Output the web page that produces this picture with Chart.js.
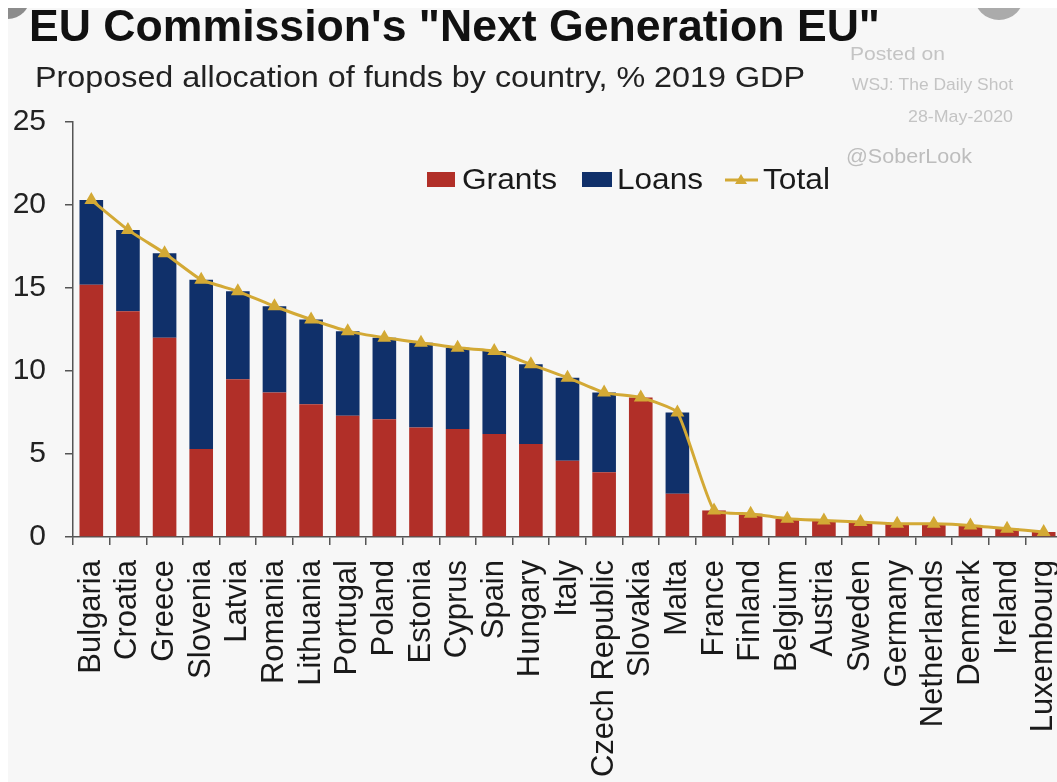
<!DOCTYPE html>
<html>
<head>
<meta charset="utf-8">
<script src="https://cdn.jsdelivr.net/npm/chart.js@4.4.1/dist/chart.umd.min.js"></script>
<style>
  html, body { margin: 0; padding: 0; background: #fff; overflow: hidden; width: 1057px; height: 782px; }
  #wrap { position: absolute; left: 0; top: 0; width: 1075px; height: 782px; }
</style>
</head>
<body>
<div id="wrap"><canvas id="chart" width="1075" height="782"></canvas></div>
<script>
// NGEU proposal, % of 2019 GDP
const countries = ['Bulgaria', 'Croatia', 'Greece', 'Slovenia', 'Latvia', 'Romania', 'Lithuania',
  'Portugal', 'Poland', 'Estonia', 'Cyprus', 'Spain', 'Hungary', 'Italy', 'Czech Republic',
  'Slovakia', 'Malta', 'France', 'Finland', 'Belgium', 'Austria', 'Sweden', 'Germany',
  'Netherlands', 'Denmark', 'Ireland', 'Luxembourg'];
const grants = [15.2, 13.6, 12.0, 5.3, 9.5, 8.7, 8.0, 7.3, 7.1, 6.6, 6.5, 6.2, 5.6, 4.6, 3.9,
  8.4, 2.6, 1.6, 1.4, 1.1, 1.0, 0.9, 0.8, 0.8, 0.7, 0.5, 0.3];
const loans = [5.1, 4.9, 5.1, 10.2, 5.3, 5.2, 5.1, 5.1, 4.9, 5.1, 4.9, 5.0, 4.8, 5.0, 4.8,
  0, 4.9, 0, 0, 0, 0, 0, 0, 0, 0, 0, 0];
const totals = [20.3, 18.5, 17.1, 15.5, 14.8, 13.9, 13.1, 12.4, 12.0, 11.7, 11.4, 11.2, 10.4, 9.6, 8.7,
  8.4, 7.5, 1.6, 1.4, 1.1, 1.0, 0.9, 0.8, 0.8, 0.7, 0.5, 0.3];
const yTicks = [0, 5, 10, 15, 20, 25];

const RED = '#b12f28';
const NAVY = '#10306a';
const GOLD = '#d3a935';
const AXIS = '#555';
const FONT = '"Liberation Sans", Arial, sans-serif';

// draw a string squeezed/stretched to a given width
function fitText(ctx, str, x, y, font, color, width) {
  ctx.save();
  ctx.font = font;
  ctx.fillStyle = color;
  ctx.textBaseline = 'alphabetic';
  ctx.textAlign = 'left';
  const w = ctx.measureText(str).width;
  ctx.translate(x, y);
  ctx.scale(width / w, 1);
  ctx.fillText(str, 0, 0);
  ctx.restore();
}

const backdrop = {
  id: 'backdrop',
  beforeDraw(chart) {
    const ctx = chart.ctx;
    ctx.save();
    ctx.fillStyle = '#fff';
    ctx.fillRect(0, 0, chart.width, chart.height);
    ctx.beginPath();
    ctx.rect(8, 8, chart.width, chart.height);
    ctx.clip();
    ctx.fillStyle = '#f7f7f7';
    ctx.fillRect(8, 8, chart.width, chart.height);
    // corner blobs
    ctx.fillStyle = '#8c8c8c';
    ctx.beginPath(); ctx.arc(8, -3, 22, 0, Math.PI * 2); ctx.fill();
    ctx.fillStyle = '#ababab';
    ctx.beginPath(); ctx.arc(999, -5, 25, 0, Math.PI * 2); ctx.fill();
    ctx.restore();
  },
  afterDraw(chart) {
    const ctx = chart.ctx;
    fitText(ctx, 'EU Commission\'s "Next Generation EU"', 29, 41, 'bold 44px ' + FONT, '#111', 851);
    fitText(ctx, 'Proposed allocation of funds by country, % 2019 GDP', 35, 87, '30px ' + FONT, '#222', 770);

    // source stamp
    fitText(ctx, 'Posted on', 850, 60, '19px ' + FONT, '#c4c4c4', 95);
    fitText(ctx, 'WSJ: The Daily Shot', 852, 90, '17px ' + FONT, '#c4c4c4', 161);
    fitText(ctx, '28-May-2020', 908, 121.5, '17px ' + FONT, '#c4c4c4', 105);
    fitText(ctx, '@SoberLook', 846, 162.5, '20px ' + FONT, '#bdbdbd', 126);

    // legend
    ctx.save();
    ctx.fillStyle = RED;
    ctx.fillRect(427, 172, 28, 15);
    ctx.fillStyle = NAVY;
    ctx.fillRect(582, 172, 30, 15);
    ctx.strokeStyle = GOLD;
    ctx.lineWidth = 3;
    ctx.beginPath(); ctx.moveTo(725, 180); ctx.lineTo(758, 180); ctx.stroke();
    ctx.fillStyle = GOLD;
    ctx.beginPath(); ctx.moveTo(741, 174); ctx.lineTo(747, 184); ctx.lineTo(735, 184); ctx.closePath(); ctx.fill();
    ctx.restore();
    fitText(ctx, 'Grants', 462, 189, '30px ' + FONT, '#1a1a1a', 95);
    fitText(ctx, 'Loans', 617, 189, '30px ' + FONT, '#1a1a1a', 86);
    fitText(ctx, 'Total', 763, 189, '30px ' + FONT, '#1a1a1a', 67);
  }
};

new Chart(document.getElementById('chart'), {
  data: {
    labels: countries,
    datasets: [
      {
        type: 'line', label: 'Total', data: totals, stack: 'total', order: 0,
        borderColor: GOLD, backgroundColor: GOLD, borderWidth: 3,
        pointStyle: 'triangle', pointRadius: 5, pointBackgroundColor: GOLD, pointBorderColor: GOLD,
        tension: 0.15
      },
      { type: 'bar', label: 'Grants', data: grants, stack: 'gl', order: 1, backgroundColor: RED },
      { type: 'bar', label: 'Loans', data: loans, stack: 'gl', order: 1, backgroundColor: NAVY }
    ]
  },
  options: {
    responsive: false,
    animation: false,
    layout: { padding: { left: 0, top: 122, right: 13, bottom: 0 } },
    datasets: { bar: { barPercentage: 0.645, categoryPercentage: 1 } },
    plugins: { legend: { display: false }, tooltip: { enabled: false } },
    scales: {
      x: {
        stacked: true,
        grid: { drawOnChartArea: false, tickLength: 8, color: AXIS, lineWidth: 1.5 },
        border: { color: AXIS, width: 1.5 },
        ticks: {
          autoSkip: false, maxRotation: 90, minRotation: 90, padding: 15,
          color: '#1a1a1a', font: { family: FONT, size: 31 }
        },
        afterFit(scale) { scale.height = 245; scale.paddingLeft = 0; scale.paddingRight = 0; }
      },
      y: {
        stacked: true, min: 0, max: 25,
        grid: { drawOnChartArea: false, tickLength: 8, color: AXIS, lineWidth: 1.5 },
        border: { color: AXIS, width: 1.5 },
        afterBuildTicks(scale) { scale.ticks = yTicks.map(v => ({ value: v })); },
        ticks: { padding: 19, color: '#222', font: { family: FONT, size: 30 } },
        afterFit(scale) { scale.width = 73; }
      }
    }
  },
  plugins: [backdrop]
});
</script>
</body>
</html>
